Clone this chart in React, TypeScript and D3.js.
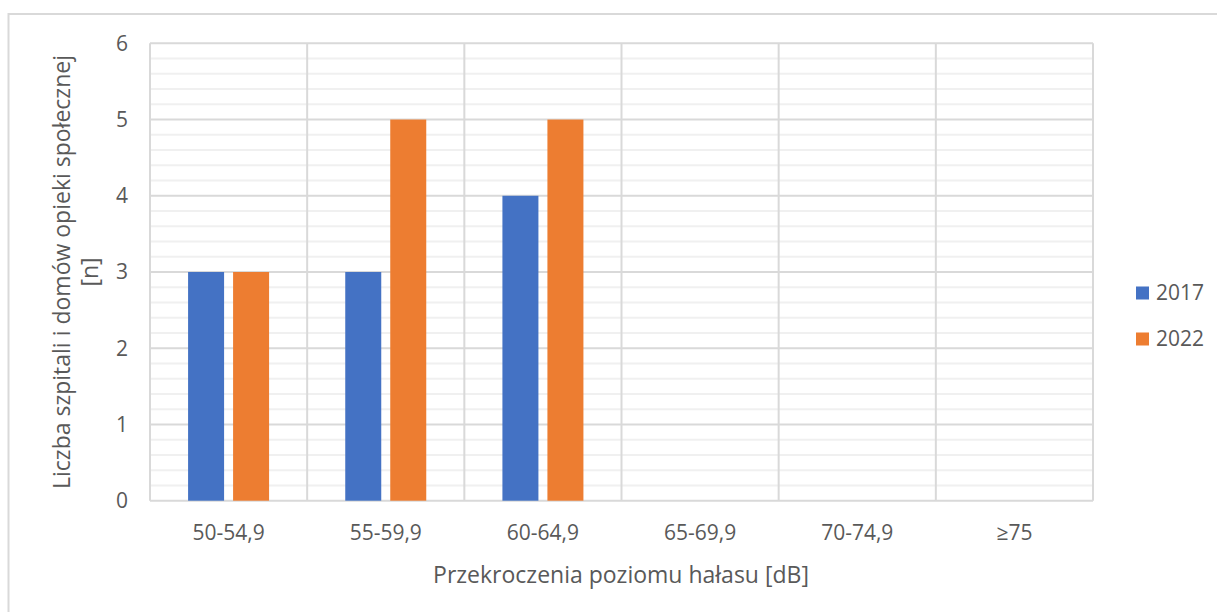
import React from "react";
import * as d3 from "d3";

const categories = ["50-54,9", "55-59,9", "60-64,9", "65-69,9", "70-74,9", "≥75"];
const series2017 = [3, 3, 4, 0, 0, 0];
const series2022 = [3, 5, 5, 0, 0, 0];
const seriesNames = ["2017", "2022"];
const yTicks = [0, 1, 2, 3, 4, 5, 6];

const colors = ["#4472C4", "#ED7D31"];
const textColor = "#595959";
const font = "'Open Sans', 'Noto Sans', sans-serif";

export default function App() {
  const W = 1217, H = 612;
  const left = 150, right = 1093, top = 43.3, bottom = 500.7;
  const x = d3.scaleBand<string>().domain(categories).range([left, right]).paddingInner(0).paddingOuter(0);
  const y = d3.scaleLinear().domain([0, 6]).range([bottom, top]);
  const minor = d3.range(0, 30).map((i) => i * 0.2).filter((v) => Math.abs(v - Math.round(v)) > 1e-6);
  const barW = 36, gap = 9;
  const groupW = barW * 2 + gap;
  const data = [series2017, series2022];

  return (
    <svg width={W} height={H} style={{ display: "block", position: "absolute", left: 0, top: 0 }}>
      <rect x={0} y={0} width={W} height={H} fill="#fff" />
      <rect x={8.5} y={14} width={W + 10} height={H + 10} fill="#fff" stroke="#D9D9D9" strokeWidth={2} />
      {minor.map((v) => (
        <line key={"m" + v} x1={left} x2={right} y1={y(v)} y2={y(v)} stroke="#F0F0F0" strokeWidth={2} />
      ))}
      {yTicks.map((v) => (
        <line key={"g" + v} x1={left} x2={right} y1={y(v)} y2={y(v)} stroke="#D9D9D9" strokeWidth={2} />
      ))}
      {categories.map((c) => (
        <line key={"v" + c} x1={x(c)!} x2={x(c)!} y1={top} y2={bottom} stroke="#D9D9D9" strokeWidth={2} />
      ))}
      <line x1={right} x2={right} y1={top} y2={bottom} stroke="#D9D9D9" strokeWidth={2} />
      {data.map((s, si) =>
        s.map((v, i) => {
          const cx = x(categories[i])! + x.bandwidth() / 2 - groupW / 2 + si * (barW + gap);
          if (v <= 0) return null;
          return <rect key={si + "-" + i} x={cx} y={y(v)} width={barW} height={y(0) - y(v)} fill={colors[si]} />;
        })
      )}
      {yTicks.map((v) => (
        <text key={"t" + v} x={128} y={y(v)} dy="0.35em" textAnchor="end" fill={textColor} fontFamily={font} fontSize={21}>
          {v}
        </text>
      ))}
      {categories.map((c) => (
        <text key={"xt" + c} x={x(c)! + x.bandwidth() / 2} y={533} dy="0.35em" textAnchor="middle" fill={textColor} fontFamily={font} fontSize={21}>
          {c}
        </text>
      ))}
      <text x={621} y={575} dy="0.35em" textAnchor="middle" fill={textColor} fontFamily={font} fontSize={23}>
        Przekroczenia poziomu hałasu [dB]
      </text>
      <g transform="translate(62,272) rotate(-90)">
        <text x={0} y={0} dy="0.35em" textAnchor="middle" fill={textColor} fontFamily={font} fontSize={23}>
          Liczba szpitali i domów opieki społecznej
        </text>
        <text x={0} y={28} dy="0.35em" textAnchor="middle" fill={textColor} fontFamily={font} fontSize={23}>
          [n]
        </text>
      </g>
      {seriesNames.map((n, i) => (
        <g key={n} transform={`translate(1136,${293 + i * 46})`}>
          <rect x={0} y={-6.5} width={13} height={13} fill={colors[i]} />
          <text x={20} y={0} dy="0.35em" fill={textColor} fontFamily={font} fontSize={21}>
            {n}
          </text>
        </g>
      ))}
    </svg>
  );
}
